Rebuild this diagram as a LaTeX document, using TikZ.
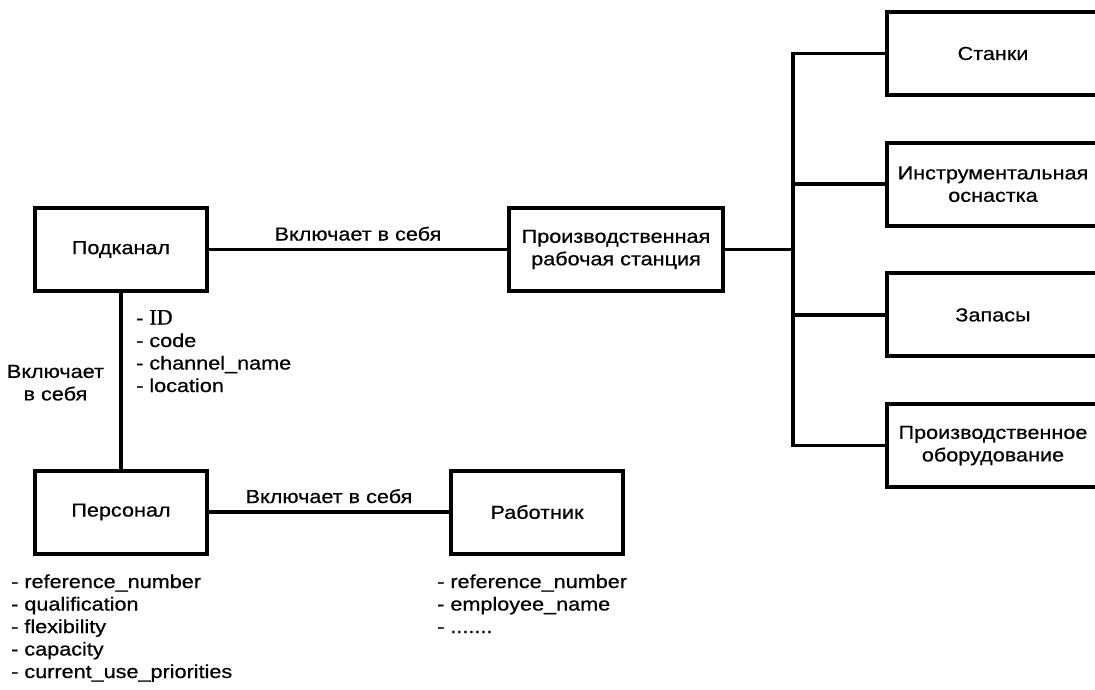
\documentclass[tikz,border=0pt]{standalone}
\usepackage{fontspec}
\setmainfont{Liberation Sans}[FakeStretch=1.15, FakeBold=0.6]
\newfontfamily\idfont{Liberation Serif}[FakeBold=0.8]
\usepackage{tikz}

\tikzset{
entity/.style={draw, line width=4pt, minimum width=172pt, minimum height=83pt, align=center, inner sep=0pt},
link/.style={line width=3.5pt},
attrs/.style={align=left, anchor=base west, inner sep=0pt}
}

\begin{document}
\begin{tikzpicture}[x=1pt, y=-1pt, font=\fontsize{18.8}{22.5}\selectfont]
\useasboundingbox (0,0) rectangle (1095,690);
\node[entity] (sub) at (121,249.5) {Подканал};
\node[entity, minimum width=214pt] (ws) at (616,249.5) {Производственная\\рабочая станция};
\node[entity] (pers) at (121,512) {Персонал};
\node[entity] (worker) at (537,512) {Работник};
\coordinate (trunk) at (793,249.5);
\foreach \name/\txt [count=\i from 0] in {stanki/Станки, tools/{Инструментальная\\оснастка}, stock/Запасы, equip/{Производственное\\оборудование}} {
\node[entity, minimum width=212pt] (\name) at (993,{53.5+130.7*\i}) {\txt};
\draw[link] (\name.west) -| (trunk);
}
\draw[link] (ws.east) -- (trunk);
\draw[link] (sub.east) -- (ws.west) node[midway, anchor=base, yshift=9pt] {Включает в себя};
\draw[link] (sub.south) -- (pers.north) node[midway, anchor=east, xshift=-12pt, yshift=-2pt, align=center] {Включает\\в себя};
\draw[link] (pers.east) -- (worker.west) node[midway, anchor=base, yshift=9pt] {Включает в себя};
\node[attrs] (subattr) at (136,392) {- {\idfont\fontsize{22}{22.5}\selectfont ID}\\- code\\- channel\_name\\- location};
\node[attrs] (persattr) at (11,678) {- reference\_number\\- qualification\\- flexibility\\- capacity\\- current\_use\_priorities};
\node[attrs] (workerattr) at (437,633) {- reference\_number\\- employee\_name\\- .......};
\end{tikzpicture}
\end{document}
